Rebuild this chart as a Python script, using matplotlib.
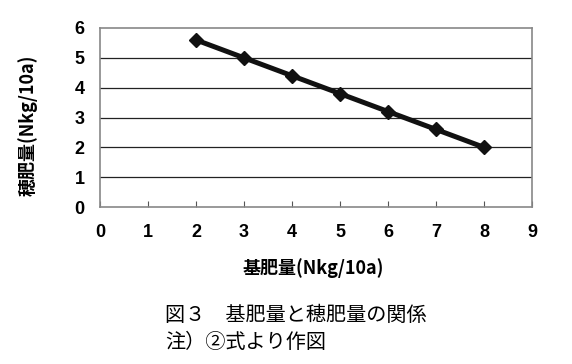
import matplotlib
matplotlib.use("Agg")
import matplotlib.pyplot as plt

x_base = [2, 3, 4, 5, 6, 7, 8]
y_panicle = [5.6, 5.0, 4.4, 3.8, 3.2, 2.6, 2.0]
x_ticks = list(range(0, 10))
y_ticks = list(range(0, 7))

CJK = ['Liberation Sans Narrow', 'Noto Sans CJK JP', 'DejaVu Sans']
plt.rcParams['font.family'] = ['Liberation Sans Narrow', 'Liberation Sans', 'Noto Sans CJK JP', 'DejaVu Sans']

fig = plt.figure(figsize=(5.72, 3.64), dpi=100)
ax = fig.add_axes([100/572, 1-207/364, 432/572, 179/364])
ax.plot(x_base, y_panicle, color='#111111', lw=3.6, marker='D', ms=7.5,
        mfc='#111111', mec='#111111', zorder=3, clip_on=False)
ax.set_xlim(0, 9)
ax.set_ylim(0, 6)
ax.set_xticks(x_ticks)
ax.set_yticks(y_ticks)
for yv in y_ticks[1:-1]:
    ax.axhline(yv, color='#222222', lw=0.9, zorder=1)
for s in ax.spines.values():
    s.set_color('#888888')
    s.set_linewidth(1.2)
ax.tick_params(axis='x', direction='in', length=4, color='#555555', pad=12, labelsize=13)
ax.tick_params(axis='y', length=0, pad=11, labelsize=13)
for lab in ax.get_xticklabels() + ax.get_yticklabels():
    lab.set_fontweight('bold')

fig.text(313/572, 1-268/364, '基肥量(Nkg/10a)', fontsize=13, fontweight='bold',
         family=CJK, ha='center', va='center')
fig.text(28/572, 1-125/364, '穂肥量(Nkg/10a)', fontsize=13, fontweight='bold',
         family=CJK, ha='center', va='center', rotation=90)
fig.text(165/572, 1-315/364, '図３　基肥量と穂肥量の関係', fontsize=14.5,
         family=['Noto Sans CJK JP', 'DejaVu Sans'], va='center', ha='left')
fig.text(165/572, 1-342/364, '注）②式より作図', fontsize=14.5,
         family=['Noto Sans CJK JP', 'DejaVu Sans'], va='center', ha='left')
fig.savefig('out.png', dpi=100)
